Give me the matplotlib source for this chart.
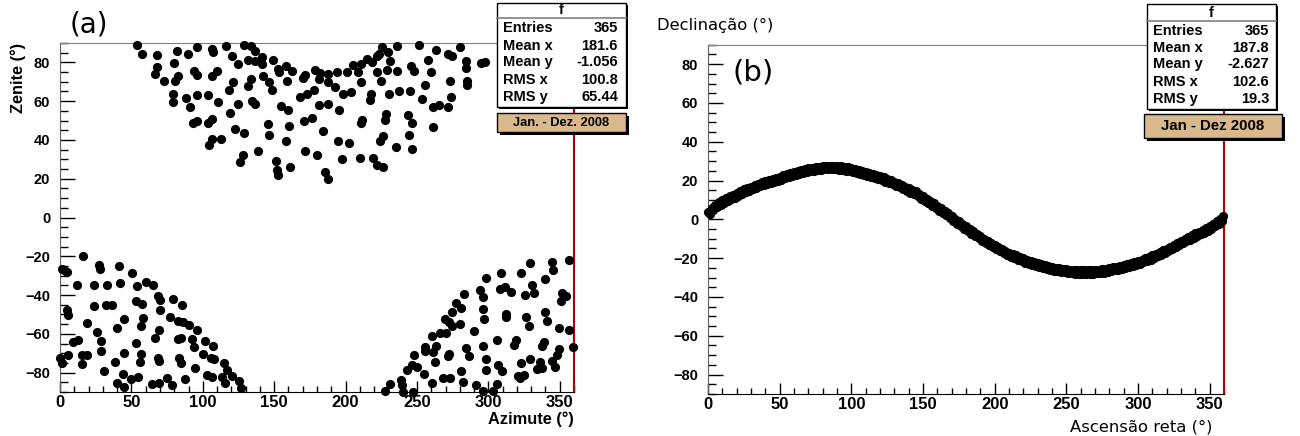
import numpy as np
import matplotlib
matplotlib.use("Agg")
import matplotlib.pyplot as plt
from matplotlib.patches import Rectangle
from matplotlib.ticker import MultipleLocator

# (a) azimute / zenite (az, zen)
top_cluster = [
    (53.7, 89.2), (57.2, 84.5), (67.7, 83.8), (82.1, 85.7), (89.8, 84.5), (95.7, 87.8),
    (106.7, 86.7), (107.5, 85.5), (116.2, 88.3), (128.8, 89.2), (133.5, 88.7), (136.5, 86.1),
    (80.0, 79.7), (67.7, 77.5), (66.5, 74.1), (73.0, 70.6), (80.5, 70.6), (82.8, 73.2),
    (94.0, 75.6), (96.1, 73.4), (106.2, 72.8), (109.7, 75.6), (120.2, 83.5), (124.4, 79.2),
    (131.4, 81.4), (136.5, 80.9), (141.6, 82.6), (141.6, 79.2), (149.3, 81.4), (152.8, 76.6),
    (153.3, 74.9), (158.2, 77.9), (162.2, 75.6), (158.7, 70.6), (171.5, 73.5), (169.9, 71.8),
    (178.5, 76.3), (182.0, 74.6), (181.5, 71.2), (187.9, 74.1), (187.9, 69.8), (142.3, 73.2),
    (146.3, 70.1), (133.7, 71.2), (131.4, 67.7), (121.3, 69.8), (118.3, 66.0), (148.6, 66.0),
    (78.9, 63.8), (79.4, 59.5), (87.9, 61.6), (95.7, 63.0), (103.4, 63.0), (91.2, 56.9),
    (110.8, 59.5), (124.4, 58.3), (134.2, 59.9), (136.5, 58.6), (118.9, 54.0), (154.7, 57.5),
    (159.8, 55.7), (168.0, 62.1), (172.7, 63.8), (177.8, 65.8), (181.5, 57.8), (187.9, 58.7),
    (93.3, 48.9), (95.7, 49.6), (103.8, 48.9), (106.2, 50.6), (122.5, 45.4), (128.8, 43.4),
    (145.9, 48.4), (146.5, 42.4), (160.5, 47.2), (158.2, 39.7), (171.1, 49.8), (176.2, 51.3),
    (184.3, 44.4), (106.7, 40.6), (112.5, 40.6), (104.5, 37.6), (138.8, 34.1), (128.3, 32.0),
    (126.0, 28.6), (151.2, 29.3), (151.7, 24.7), (152.8, 21.8), (161.0, 26.0), (171.5, 34.1),
    (179.7, 32.4), (185.5, 23.5), (187.9, 20.0),
    (225.6, 87.8), (235.7, 88.7), (251.3, 89.0), (263.2, 86.4), (271.8, 84.4), (274.3, 83.5),
    (280.4, 87.8), (229.8, 85.6), (223.3, 84.4), (221.7, 83.5), (231.0, 80.9), (218.6, 80.4),
    (214.7, 81.8), (210.7, 79.2), (205.3, 78.7), (208.8, 74.9), (200.7, 74.9), (193.7, 75.2),
    (221.7, 74.9), (228.7, 76.3), (235.7, 75.8), (245.7, 78.0), (248.1, 75.4), (257.7, 81.4),
    (260.1, 74.9), (284.7, 80.9), (284.7, 77.0), (295.2, 79.8), (297.5, 80.4), (273.0, 70.6),
    (285.4, 70.6), (285.4, 68.4), (224.7, 70.6), (210.7, 69.8), (192.5, 67.2), (204.1, 64.6),
    (198.3, 63.8), (217.9, 63.8), (217.4, 60.4), (230.3, 63.8), (237.3, 65.0), (245.0, 65.5),
    (255.5, 68.1), (253.2, 61.2), (195.3, 55.2), (261.3, 56.9), (265.5, 58.1), (271.8, 56.9),
    (274.1, 62.1), (228.6, 53.5), (227.5, 50.1), (211.8, 50.1), (211.1, 48.9), (243.4, 53.0),
    (246.7, 48.9), (260.9, 46.6), (194.8, 39.7), (202.3, 38.5), (226.3, 42.1), (224.0, 39.2),
    (244.3, 42.4), (235.2, 36.3), (246.7, 35.4), (197.2, 30.3), (210.0, 30.8), (219.3, 30.6),
    (221.7, 26.9), (226.3, 26.0),
]

left_cluster = [
    (16.3, -20.1), (1.2, -26.4), (3.0, -27.3), (4.7, -28.0), (27.5, -24.7), (28.0, -26.4),
    (41.5, -25.2), (50.2, -28.5), (12.1, -34.6), (23.8, -34.9), (32.7, -34.6), (42.0, -33.6),
    (53.7, -35.5), (60.0, -33.2), (65.3, -34.6), (4.7, -47.8), (5.4, -50.4), (24.0, -45.6),
    (32.2, -44.9), (36.2, -44.9), (52.9, -43.0), (57.2, -44.4), (68.8, -40.6), (70.2, -42.7),
    (79.3, -42.2), (85.2, -44.9), (70.0, -47.5), (18.7, -54.4), (45.0, -52.1), (58.3, -51.8),
    (56.7, -56.1), (77.0, -51.3), (82.4, -53.5), (86.3, -53.8), (90.5, -55.6), (95.7, -58.1),
    (39.7, -56.9), (25.7, -59.0), (9.3, -64.1), (12.8, -63.3), (28.7, -63.8), (28.7, -68.9),
    (52.9, -64.6), (66.5, -61.9), (69.3, -58.1), (82.8, -62.9), (84.5, -61.9), (92.2, -62.8),
    (94.0, -67.0), (101.5, -63.6), (106.9, -66.2), (0.0, -72.7), (1.6, -75.3), (5.4, -71.0),
    (15.6, -71.0), (18.7, -71.0), (15.2, -75.8), (31.0, -79.0), (38.5, -74.7), (44.8, -69.8),
    (56.7, -70.5), (56.0, -74.6), (68.8, -72.7), (69.3, -73.9), (83.3, -72.4), (84.7, -75.3),
    (99.9, -70.5), (105.5, -72.7), (108.0, -73.1), (94.5, -77.8), (115.0, -74.8), (117.1, -78.7),
    (120.2, -81.8), (102.7, -81.3), (106.2, -82.1), (113.6, -82.1), (115.9, -85.2), (125.3, -84.4),
    (126.5, -88.1), (44.3, -80.8), (54.8, -82.1), (49.7, -83.5), (39.7, -85.2), (44.8, -87.3),
    (64.2, -86.1), (69.3, -85.6), (75.1, -83.0), (78.6, -86.4), (87.5, -83.5),
]

right_cluster = [
    (356.3, -21.8), (344.6, -23.0), (345.3, -27.3), (329.5, -23.3), (309.1, -28.6), (322.7, -28.5),
    (298.2, -31.2), (340.0, -31.9), (330.6, -35.0), (332.0, -38.9), (325.9, -39.8), (308.5, -36.7),
    (311.5, -35.8), (315.7, -38.4), (294.4, -37.6), (296.3, -41.0), (283.0, -39.3), (351.8, -38.9),
    (350.7, -43.2), (354.6, -40.6), (277.6, -43.9), (281.1, -46.5), (274.9, -48.7), (296.3, -47.0),
    (296.8, -52.1), (312.7, -49.6), (312.2, -51.3), (340.0, -48.7), (341.4, -53.3), (326.7, -51.3),
    (328.3, -56.1), (269.5, -52.1), (272.6, -53.8), (274.9, -56.1), (280.5, -55.0), (290.0, -58.5),
    (349.3, -56.8), (356.3, -58.1), (266.1, -59.5), (270.3, -59.8), (260.2, -61.2), (263.5, -66.2),
    (255.3, -67.0), (255.3, -68.9), (261.2, -69.2), (248.1, -71.0), (262.4, -74.7), (284.2, -67.2),
    (286.3, -71.5), (272.6, -70.2), (271.8, -71.3), (296.3, -66.2), (306.1, -63.3), (319.7, -63.3),
    (317.8, -65.8), (339.1, -64.1), (337.9, -66.2), (349.3, -67.6), (348.4, -71.0), (359.3, -66.7),
    (298.7, -73.2), (298.2, -78.4), (306.8, -76.1), (309.8, -79.0), (323.2, -75.3), (329.0, -73.2),
    (336.1, -74.4), (337.9, -77.8), (334.4, -78.2), (344.9, -73.9), (346.5, -77.3), (246.2, -76.1),
    (249.7, -77.3), (243.2, -78.7), (254.8, -80.8), (281.1, -79.2), (320.6, -81.8), (325.3, -81.3),
    (322.5, -83.0), (268.3, -82.7), (272.9, -83.0), (260.2, -85.2), (282.3, -84.7), (291.7, -86.4),
    (306.1, -86.1), (231.0, -86.1), (238.5, -83.9), (239.2, -86.4), (239.9, -89.9), (227.5, -89.3),
    (247.3, -89.9), (296.3, -89.3), (303.3, -89.3),
]

# (b) ascensao reta / declinacao, upper edge of the band
ra_up = [0, 2.5, 5, 7.5, 10, 12.5, 15, 17.5, 20, 22.5, 25, 27.5, 30, 32.5, 35, 37.5, 40, 42.5,
         45, 47.5, 50, 52.5, 55, 57.5, 60, 62.5, 65, 67.5, 70, 72.5, 75, 77.5, 80, 82.5, 85, 87.5,
         90, 92.5, 95, 97.5, 100, 102.5, 105, 107.5, 110, 112.5, 115, 117.5, 120, 122.5, 125, 127.5,
         130, 132.5, 135, 137.5, 140, 142.5, 145, 147.5, 150, 152.5, 155, 157.5, 160, 162.5, 165,
         167.5, 170, 172.5, 175, 177.5, 180, 182.5, 185, 187.5, 190, 192.5, 195, 197.5, 200, 202.5,
         205, 207.5, 210, 212.5, 215, 217.5, 220, 222.5, 225, 227.5, 230, 232.5, 235, 237.5, 240,
         242.5, 245, 247.5, 250, 252.5, 255, 257.5, 260, 262.5, 265, 267.5, 270, 272.5, 275, 277.5,
         280, 282.5, 285, 287.5, 290, 292.5, 295, 297.5, 300, 302.5, 305, 307.5, 310, 312.5, 315,
         317.5, 320, 322.5, 325, 327.5, 330, 332.5, 335, 337.5, 340, 342.5, 345, 347.5, 350, 352.5,
         355, 357.5, 359.5]
dec_up = [3.9, 5.7, 7.4, 8.7, 9.9, 10.9, 11.9, 12.7, 13.4, 14.4,
          15.4, 16.2, 16.9, 17.7, 18.4, 19.2, 19.9, 20.4, 20.9, 21.4,
          21.9, 22.7, 23.4, 23.9, 24.4, 24.9, 25.4, 25.9, 26.4, 26.7,
          26.9, 27.2, 27.4, 27.5, 27.6, 27.5, 27.4, 27.3, 27.1, 26.8,
          26.4, 25.9, 25.4, 24.9, 24.4, 23.9, 23.4, 22.9, 22.4, 21.7,
          20.9, 20.2, 19.4, 18.7, 17.9, 16.9, 15.9, 15.2, 14.4, 13.2,
          11.9, 10.7, 9.4, 8.2, 6.9, 5.7, 4.4, 3.2, 1.9, 0.4,
          -1.1, -2.4, -3.6, -4.9, -6.1, -7.4, -8.6, -9.9, -11.1, -12.1,
          -13.1, -14.1, -15.1, -16.1, -17.1, -17.9, -18.6, -19.4, -20.1, -20.9,
          -21.6, -22.1, -22.6, -23.1, -23.6, -24.1, -24.6, -24.9, -25.1, -25.4,
          -25.6, -25.9, -26.1, -26.2, -26.3, -26.3, -26.3, -26.2, -26.1, -26.0,
          -25.8, -25.5, -25.1, -24.7, -24.3, -23.8, -23.3, -22.9, -22.4, -21.9,
          -21.4, -20.8, -20.1, -19.4, -18.6, -17.8, -16.9, -16.0, -15.1, -14.1,
          -13.1, -12.1, -11.1, -10.1, -9.1, -8.1, -7.1, -6.4, -5.6, -4.6,
          -3.6, -2.4, -1.1, 0.4, 1.9]

# lower edge of the band
ra_lo = [1.25, 3.75, 6.25, 8.75, 11.25, 13.75, 16.25, 18.75, 21.25, 23.75,
         26.25, 28.75, 31.25, 33.75, 36.25, 38.75, 41.25, 43.75, 46.25, 48.75,
         51.25, 53.75, 56.25, 58.75, 61.25, 63.75, 66.25, 68.75, 71.25, 73.75,
         76.25, 78.75, 81.25, 83.75, 86.25, 88.75, 91.25, 93.75, 96.25, 98.75,
         101.25, 103.75, 106.25, 108.75, 111.25, 113.75, 116.25, 118.75, 121.25, 123.75,
         126.25, 128.75, 131.25, 133.75, 136.25, 138.75, 141.25, 143.75, 146.25, 148.75,
         151.25, 153.75, 156.25, 158.75, 161.25, 163.75, 166.25, 168.75, 171.25, 173.75,
         176.25, 178.75, 181.25, 183.75, 186.25, 188.75, 191.25, 193.75, 196.25, 198.75,
         201.25, 203.75, 206.25, 208.75, 211.25, 213.75, 216.25, 218.75, 221.25, 223.75,
         226.25, 228.75, 231.25, 233.75, 236.25, 238.75, 241.25, 243.75, 246.25, 248.75,
         251.25, 253.75, 256.25, 258.75, 261.25, 263.75, 266.25, 268.75, 271.25, 273.75,
         276.25, 278.75, 281.25, 283.75, 286.25, 288.75, 291.25, 293.75, 296.25, 298.75,
         301.25, 303.75, 306.25, 308.75, 311.25, 313.75, 316.25, 318.75, 321.25, 323.75,
         326.25, 328.75, 331.25, 333.75, 336.25, 338.75, 341.25, 343.75, 346.25, 348.75,
         351.25, 353.75, 356.25, 358.75]
dec_lo = [3.0, 4.7, 6.2, 7.5, 8.6, 9.6, 10.5, 11.2, 12.1, 13.1,
          14.0, 14.7, 15.5, 16.2, 17.0, 17.7, 18.4, 18.9, 19.4, 19.9,
          20.5, 21.2, 21.9, 22.4, 22.9, 23.4, 23.9, 24.4, 24.7, 25.0,
          25.2, 25.5, 25.7, 25.8, 25.8, 25.7, 25.5, 25.4, 25.1, 24.8,
          24.4, 23.9, 23.4, 22.9, 22.4, 21.9, 21.4, 20.9, 20.2, 19.5,
          18.7, 18.0, 17.2, 16.5, 15.6, 14.6, 13.7, 13.0, 12.0, 10.7,
          9.5, 8.2, 7.0, 5.7, 4.5, 3.2, 2.0, 0.7, -0.7, -2.2,
          -3.5, -4.8, -6.0, -7.3, -8.5, -9.8, -11.0, -12.3, -13.4, -14.4,
          -15.4, -16.4, -17.4, -18.4, -19.3, -20.0, -20.8, -21.5, -22.3, -23.0,
          -23.7, -24.2, -24.7, -25.2, -25.7, -26.2, -26.5, -26.8, -27.0, -27.3,
          -27.5, -27.8, -28.0, -28.1, -28.1, -28.1, -28.1, -28.0, -27.8, -27.7,
          -27.4, -27.1, -26.7, -26.3, -25.9, -25.4, -24.9, -24.4, -24.0, -23.5,
          -22.9, -22.2, -21.5, -20.8, -20.0, -19.1, -18.3, -17.4, -16.4, -15.4,
          -14.4, -13.4, -12.4, -11.4, -10.4, -9.4, -8.5, -7.8, -6.9, -5.9,
          -4.8, -3.5, -2.2, -0.7]

stat_labels = ["Entries", "Mean x", "Mean y", "RMS x", "RMS y"]
stats_a = ["365", "181.6", "-1.056", "100.8", "65.44"]
stats_b = ["365", "187.8", "-2.627", "102.6", "19.3"]

plt.rcParams['font.family'] = ['Liberation Sans', 'DejaVu Sans']
plt.rcParams['font.weight'] = 'bold'

W, H = 1300, 436
fig = plt.figure(figsize=(W / 100, H / 100), dpi=100)


def fx(x):
    return x / W


def fy(y):
    return 1 - y / H


def px_axes(l, t, r, b):
    return fig.add_axes([fx(l), fy(b), (r - l) / W, (b - t) / H])


def style(ax):
    ax.set_xlim(0, 360)
    ax.set_ylim(-90, 90)
    ax.xaxis.set_major_locator(MultipleLocator(50))
    ax.xaxis.set_minor_locator(MultipleLocator(10))
    ax.yaxis.set_major_locator(MultipleLocator(20))
    ax.yaxis.set_minor_locator(MultipleLocator(5))
    ax.tick_params(which='both', direction='in', colors='black', width=1)
    ax.tick_params(axis='y', which='major', length=10.8, pad=7, labelsize=10.5)
    ax.tick_params(axis='y', which='minor', length=5.8)
    ax.tick_params(axis='x', which='major', length=7.9, pad=2.5, labelsize=12)
    ax.tick_params(axis='x', which='minor', length=4.3)
    ax.spines['top'].set_color('#808080')
    ax.spines['left'].set_color('#606060')
    ax.spines['bottom'].set_color('black')
    ax.spines['right'].set_color('#b00000')
    ax.spines['right'].set_linewidth(1.5)


def stats_box(l, t, r, b, sep_y, title_y, row_ys, tl, tr, values):
    fig.patches.append(Rectangle((fx(l + 2), fy(b + 2)), (r - l) / W, (b - t) / H,
                                 transform=fig.transFigure, fc='black', ec='none', zorder=4))
    fig.patches.append(Rectangle((fx(l), fy(b)), (r - l) / W, (b - t) / H,
                                 transform=fig.transFigure, fc='white', ec='black', lw=1, zorder=5))
    fig.lines.append(plt.Line2D([fx(l), fx(r)], [fy(sep_y), fy(sep_y)], transform=fig.transFigure,
                                color='#808080', lw=1.2, zorder=6))
    fig.text(fx((l + r) / 2), fy(title_y), "f", ha='center', va='center', fontsize=10.5, zorder=6)
    for lab, val, yy in zip(stat_labels, values, row_ys):
        fig.text(fx(tl), fy(yy), lab, ha='left', va='center', fontsize=10.5, zorder=6)
        fig.text(fx(tr), fy(yy), val, ha='right', va='center', fontsize=10.5, zorder=6)


def tag_box(l, t, r, b, text, size):
    fig.patches.append(Rectangle((fx(l + 3), fy(b + 3)), (r - l) / W, (b - t) / H,
                                 transform=fig.transFigure, fc='black', ec='none', zorder=4))
    fig.patches.append(Rectangle((fx(l), fy(b)), (r - l) / W, (b - t) / H,
                                 transform=fig.transFigure, fc='#d9b98c', ec='black', lw=1, zorder=5))
    fig.text(fx((l + r) / 2), fy((t + b) / 2), text, ha='center', va='center', fontsize=size, zorder=6)


# panel (a)
ax_a = px_axes(60, 43, 574, 392)
style(ax_a)
for cl in (top_cluster, left_cluster, right_cluster):
    az = [p[0] for p in cl]
    zen = [p[1] for p in cl]
    ax_a.plot(az, zen, 'o', ms=5.6, color='black', clip_on=False, zorder=3)
fig.text(fx(18), fy(43), "Zenite (°)", rotation=90, ha='center', va='top', fontsize=11.8)
fig.text(fx(574), fy(419), "Azimute (°)", ha='right', va='center', fontsize=11.8)
fig.text(fx(89), fy(25), "(a)", family='DejaVu Sans', fontweight='normal', ha='center',
         va='center', fontsize=20)
stats_box(497, 2.7, 626, 106.7, 18, 10, [28, 46, 62, 80, 97], 503, 618, stats_a)
tag_box(497, 113.3, 626, 132.3, "Jan. - Dez. 2008", 9.3)

# panel (b)
ax_b = px_axes(708, 44.7, 1224, 394)
style(ax_b)
ax_b.plot(ra_up, dec_up, 'o', ms=5.6, color='black', clip_on=False, zorder=3)
ax_b.plot(ra_lo, dec_lo, 'o', ms=5.6, color='black', clip_on=False, zorder=3)
fig.text(fx(657), fy(25), "Declinação (°)", family='DejaVu Sans', fontweight='normal',
         ha='left', va='center', fontsize=11.8)
fig.text(fx(1213), fy(426.7), "Ascensão reta (°)", family='DejaVu Sans', fontweight='normal',
         ha='right', va='center', fontsize=11.8)
fig.text(fx(753), fy(72), "(b)", family='DejaVu Sans', fontweight='normal', ha='center',
         va='center', fontsize=21)
stats_box(1147, 4, 1276, 109, 20.7, 12.7, [30.7, 48.3, 64, 81.7, 99.3], 1153, 1269, stats_b)
tag_box(1144, 114.3, 1281.7, 137.7, "Jan - Dez 2008", 10.8)

fig.savefig("out.png", dpi=100)
